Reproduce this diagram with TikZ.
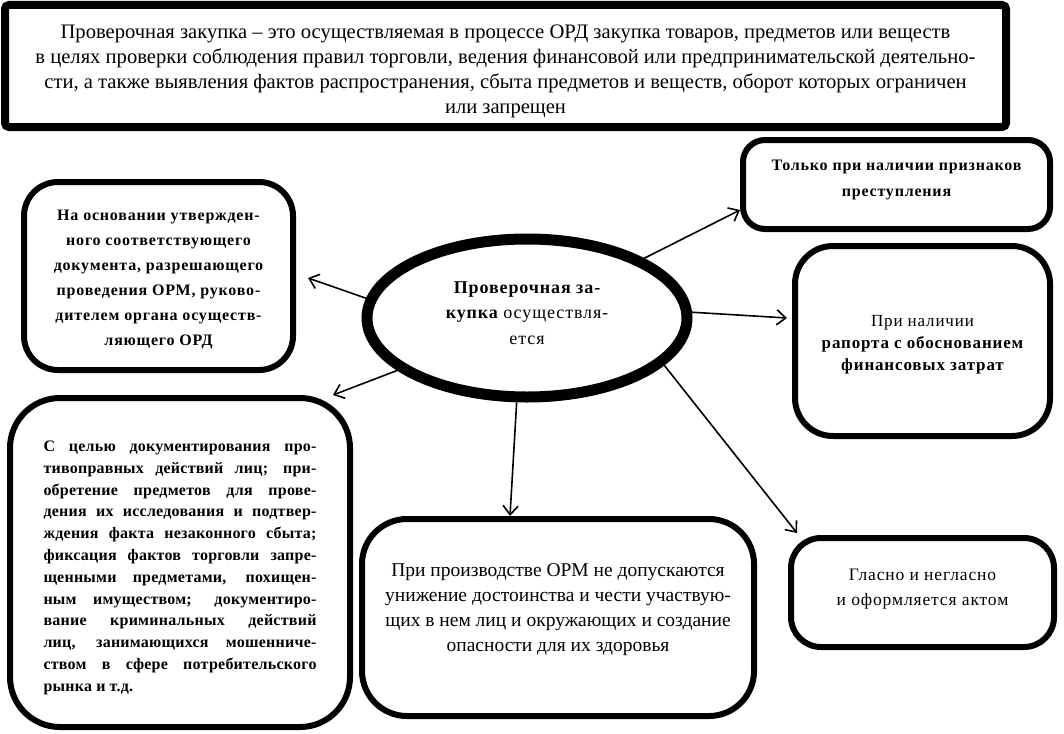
\documentclass[tikz,border=0pt]{standalone}
\usepackage{fontspec}
\setmainfont{Liberation Serif}
\newfontfamily\spfont[LetterSpace=5]{Liberation Serif}
\newfontfamily\spfontb[LetterSpace=1.5]{Liberation Serif}
\usetikzlibrary{arrows.meta,calc,shapes.geometric}
\newcommand\jline[1]{\makebox[273pt][s]{#1}}
\newcommand\up[1]{\rule{0pt}{#1}}
\newcommand\dn[1]{\rule[-#1]{0pt}{0pt}}
\begin{document}
\begin{tikzpicture}[x=1pt,y=-1pt,
  box/.style={draw,line width=6pt,inner sep=0pt,align=center},
  arr/.style={-{Straight Barb[length=9pt,width=15pt]},line width=1.6pt},
]
\useasboundingbox[fill=white] (0,0) rectangle (1064,733);

\node[box,line width=8pt,rounded corners=4pt,minimum width=1001pt,minimum height=122pt,
  font=\fontsize{20.6}{25}\selectfont] (top) at (505.5,66)
  {\up{25pt}Проверочная закупка – это осуществляемая в процессе ОРД закупка товаров, предметов или веществ\\
   в целях проверки соблюдения правил торговли, ведения финансовой или предпринимательской деятельно-\\
   сти, а также выявления фактов распространения, сбыта предметов и веществ, оборот которых ограничен\\
   или запрещен};

\node[box,rounded corners=34pt,minimum width=269pt,minimum height=188pt,
  font=\spfont\bfseries\fontsize{16}{25}\selectfont] (A) at (158.5,276)
  {\up{18pt}На основании утвержден-\\ного соответствующего\\документа, разрешающего\\проведения ОРМ, руково-\\дителем органа осуществ-\\ляющего ОРД};

\node[box,rounded corners=22pt,minimum width=307pt,minimum height=89pt,
  font=\spfont\bfseries\fontsize{16}{26}\selectfont] (B) at (896.5,184.5)
  {Только при наличии признаков\\преступления\dn{11.5pt}};

\node[box,rounded corners=38pt,minimum width=255pt,minimum height=190pt,
  font=\spfont\fontsize{17}{22}\selectfont] (C) at (922.5,341)
  {\up{19.5pt}При наличии\\{\bfseries рапорта с обоснованием}\\{\bfseries финансовых затрат}};

\node[box,rounded corners=50pt,minimum width=340pt,minimum height=329pt,
  font=\spfontb\bfseries\fontsize{16}{21.8}\selectfont] (D) at (180,562.5)
  {\up{21pt}\jline{С целью документирования про-}\\
   \jline{тивоправных действий лиц; при-}\\
   \jline{обретение предметов для прове-}\\
   \jline{дения их исследования и подтвер-}\\
   \jline{ждения факта незаконного сбыта;}\\
   \jline{фиксация фактов торговли запре-}\\
   \jline{щенными предметами, похищен-}\\
   \jline{ным имуществом; документиро-}\\
   \jline{вание криминальных действий}\\
   \jline{лиц, занимающихся мошенниче-}\\
   \jline{ством в сфере потребительского}\\
   \makebox[273pt][l]{рынка и т.д.}};

\node[box,rounded corners=45pt,minimum width=392pt,minimum height=197pt,
  font=\fontsize{19.5}{25}\selectfont] (E) at (558,617.5)
  {При производстве ОРМ не допускаются\\унижение достоинства и чести участвую-\\щих в нем лиц и окружающих и создание\\опасности для их здоровья\dn{19pt}};

\node[box,rounded corners=30pt,minimum width=263pt,minimum height=109pt,
  font=\spfont\fontsize{17.5}{25}\selectfont] (F) at (922.5,592.5)
  {Гласно и негласно\\и оформляется актом\dn{10pt}};

\node[draw,ellipse,line width=11pt,minimum width=320pt,minimum height=158pt,inner sep=0pt,
  align=center,font=\spfont\fontsize{18}{25.5}\selectfont] (ell) at (527,318)
  {{\bfseries Проверочная за-}\\{\bfseries купка} осуществля-\\ется\dn{10pt}};

\draw[arr] (ell.173) -- ($(A.east)+(12,2)$);
\draw[arr] (ell.202) -- ($(D.north east)+(-20,0)$);
\draw[arr] (ell.27) -- ($(B.south west)+(0,-22)$);
\draw[arr] (ell.2) -- ($(C.west)+(-5,-23)$);
\draw[arr] (ell.263) -- ($(E.north)+(-48,0)$);
\draw[arr] (ell.341) -- ($(F.north west)+(9,-2)$);
\end{tikzpicture}
\end{document}
